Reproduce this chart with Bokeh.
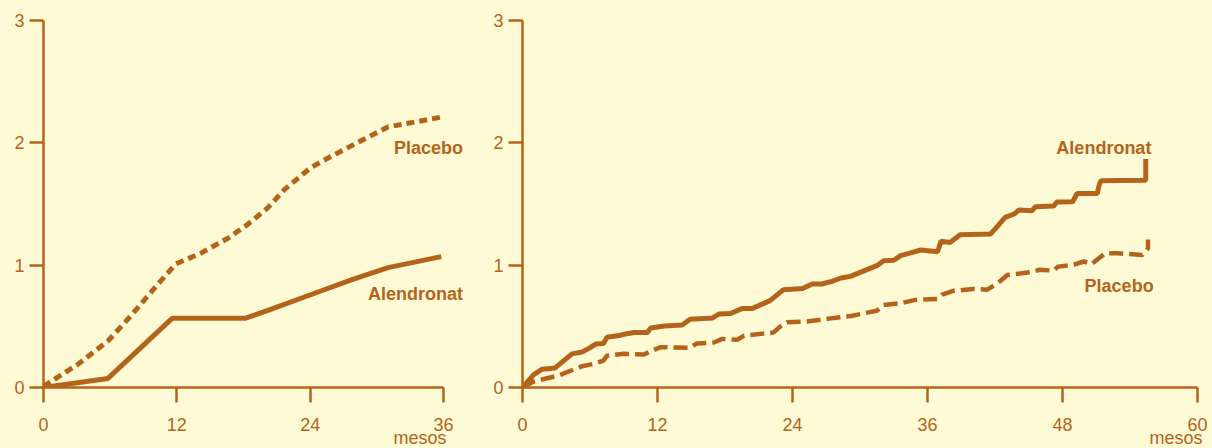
from bokeh.plotting import figure
from bokeh.layouts import row
from bokeh.models import Label, Title
from bokeh.embed import file_html
from bokeh.resources import INLINE

BG = "#fffad6"
C = "#b4641a"
FONT = "Liberation Sans"

# ---- data: left panel (0-36 months) ----
left_x_ticks = [0, 12, 24, 36]
left_alen_x = [0, 5.8, 11.6, 18.2, 20.2, 24.1, 27.7, 31.0, 35.8]
left_alen_y = [0.0, 0.074, 0.567, 0.567, 0.63, 0.76, 0.88, 0.98, 1.07]
left_plac_x = [0, 3.1, 5.8, 7.9, 10.3, 11.9, 14.2, 16.6, 18.4, 20.2, 21.7, 24.1, 25.7, 28.0, 31.0, 33.4, 35.8]
left_plac_y = [0.01, 0.19, 0.38, 0.59, 0.845, 1.01, 1.10, 1.22, 1.335, 1.47, 1.62, 1.80, 1.88, 1.99, 2.13, 2.17, 2.21]

# ---- data: right panel (0-60 months) ----
right_x_ticks = [0, 12, 24, 36, 48, 60]
right_alen_x = [0, 1.0, 1.75, 2.9, 4.4, 5.3, 5.9, 6.5, 7.2, 7.5, 8.6, 9.3, 9.9, 11.1, 11.4, 12.6, 14.2, 14.9,
                16.9, 17.45, 18.5, 19.5, 20.4, 22.0, 23.2, 24.9, 25.75, 26.6, 27.5, 28.3, 29.2, 31.5, 32.1,
                33.0, 33.6, 34.5, 35.4, 36.9, 37.2, 38.0, 38.9, 41.6, 42.0, 42.9, 43.7, 44.1, 45.3, 45.6,
                47.2, 47.5, 48.9, 49.3, 51.1, 51.2, 51.4, 55.4, 55.4]
right_alen_y = [0, 0.106, 0.15, 0.16, 0.275, 0.29, 0.32, 0.355, 0.36, 0.41, 0.425, 0.44, 0.45, 0.45, 0.487,
                0.503, 0.51, 0.558, 0.569, 0.60, 0.605, 0.645, 0.645, 0.71, 0.80, 0.81, 0.846, 0.846, 0.868,
                0.895, 0.91, 0.996, 1.037, 1.04, 1.078, 1.10, 1.124, 1.11, 1.195, 1.186, 1.249, 1.255, 1.295,
                1.39, 1.418, 1.45, 1.445, 1.478, 1.483, 1.516, 1.518, 1.586, 1.586, 1.635, 1.69, 1.695, 1.867]
right_plac_x = [0, 1.0, 3.2, 5.3, 6.3, 7.2, 7.5, 9.0, 10.8, 11.4, 12.3, 14.9, 15.5, 17.0, 17.75, 19.1, 19.7,
                22.3, 22.9, 23.5, 25.3, 27.7, 29.2, 31.5, 32.1, 33.6, 34.9, 36.9, 37.3, 38.3, 40.0, 41.3,
                41.9, 42.5, 43.1, 44.9, 46.0, 47.2, 47.6, 49.0, 49.9, 50.6, 51.8, 52.9, 55.1, 55.6, 55.6]
right_plac_y = [0, 0.049, 0.098, 0.174, 0.193, 0.22, 0.26, 0.275, 0.27, 0.297, 0.33, 0.325, 0.36, 0.368,
                0.397, 0.39, 0.424, 0.449, 0.498, 0.533, 0.54, 0.569, 0.585, 0.628, 0.675, 0.688, 0.716,
                0.724, 0.759, 0.79, 0.805, 0.80, 0.833, 0.873, 0.92, 0.94, 0.963, 0.955, 0.988, 1.004, 1.03,
                1.01, 1.097, 1.097, 1.083, 1.14, 1.21]

y_ticks = [0, 1, 2, 3]
label_alen = "Alendronat"
label_plac = "Placebo"
label_x = "mesos"


def make_fig(width, xmax, xshow, xticks, bl, br, title_offset):
    p = figure(width=width, height=448, x_range=(0, xshow), y_range=(0, 3),
               output_backend="svg", toolbar_location=None,
               min_border_left=bl, min_border_right=br, min_border_top=20, min_border_bottom=61)
    p.background_fill_color = BG
    p.border_fill_color = BG
    p.outline_line_color = None
    p.grid.visible = False
    for ax in p.axis:
        ax.axis_line_color = C
        ax.axis_line_width = 2.5
        ax.major_tick_line_color = C
        ax.major_tick_line_width = 2.5
        ax.major_tick_in = 0
        ax.minor_tick_line_color = None
        ax.major_label_text_color = C
        ax.major_label_text_font = FONT
        ax.major_label_text_font_size = "18px"
    p.xaxis.ticker = xticks
    p.xaxis.bounds = (0, xmax)
    p.yaxis.ticker = y_ticks
    p.xaxis.major_tick_out = 15
    p.xaxis.major_label_standoff = 15
    p.yaxis.major_tick_out = 14
    p.yaxis.major_label_standoff = 5
    p.add_layout(Title(text=label_x, align="right", offset=title_offset, text_color=C,
                       text_font=FONT, text_font_style="normal", text_font_size="18px",
                       vertical_align="top", standoff=-11), "below")
    return p


def add_label(p, x, y, text):
    p.add_layout(Label(x=x, y=y, text=text, text_align="right", text_baseline="middle",
                       text_font=FONT, text_font_style="bold",
                       text_font_size="18px", text_color=C))


# left: frame 43..473 px, 400 px = 36 months
p1 = make_fig(480, 36, 36 * 430 / 400, left_x_ticks, 43, 7, 27)
p1.line(left_plac_x, left_plac_y, line_width=5, color=C, line_dash="8 5")
p1.line(left_alen_x, left_alen_y, line_width=5, color=C)
add_label(p1, 37.75, 1.954, label_plac)
add_label(p1, 37.75, 0.768, label_alen)

# right: frame 522..1207 px, 675 px = 60 months
p2 = make_fig(732, 60, 60 * 685 / 675, right_x_ticks, 42, 5, 5)
p2.line(right_plac_x, right_plac_y, line_width=4.5, color=C, line_dash="14 6")
p2.line(right_alen_x, right_alen_y, line_width=5, color=C)
add_label(p2, 55.9, 1.956, label_alen)
add_label(p2, 56.1, 0.828, label_plac)

layout = row(p1, p2, styles={"background-color": BG})
open("out.html", "w").write(file_html(layout, INLINE))
